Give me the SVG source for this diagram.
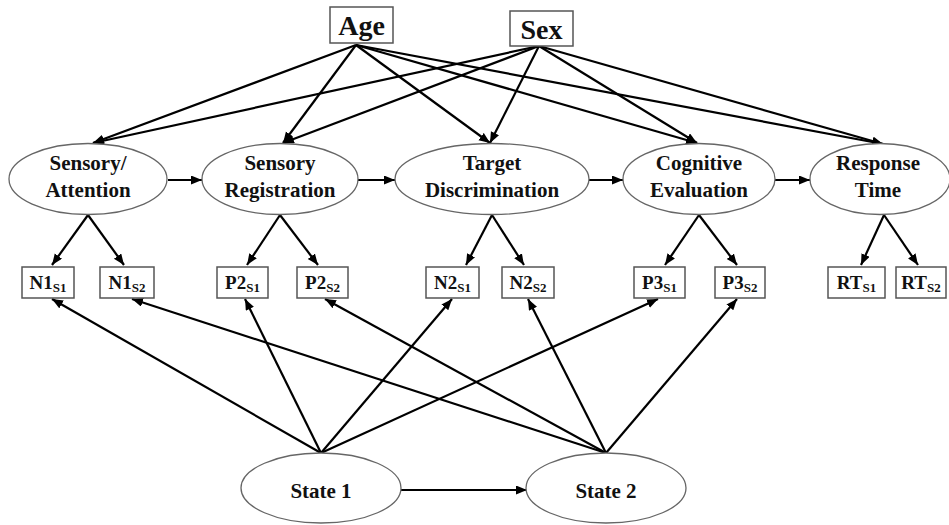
<svg xmlns="http://www.w3.org/2000/svg" width="949" height="525" viewBox="0 0 949 525">
  <defs>
    <marker id="arrow" markerUnits="userSpaceOnUse" markerWidth="12" markerHeight="10" refX="11" refY="4.5" orient="auto">
      <path d="M0,0 L11,4.5 L0,9 z" fill="#000"/>
    </marker>
    <style>
      .lat { fill: #fff; stroke: #666; stroke-width: 1.3; }
      .obs { fill: #fff; stroke: #555; stroke-width: 1.5; }
      .lbl { font-family: "Liberation Serif", "Times New Roman", "DejaVu Serif", serif; font-weight: bold; fill: #111; text-anchor: middle; }
      .big { font-size: 28px; }
      .mid { font-size: 21px; }
      .ind { font-size: 19px; }
      .sub { font-size: 13px; }
      .edge { stroke: #000; stroke-width: 2.2; fill: none; marker-end: url(#arrow); }
    </style>
  </defs>
  <rect width="949" height="525" fill="#fff"/>

  <!-- paths -->
  <g id="connectors">
    <!-- covariates to latent stages -->
    <line class="edge" x1="356" y1="45" x2="93" y2="143"/>
    <line class="edge" x1="356" y1="45" x2="283" y2="143"/>
    <line class="edge" x1="356" y1="45" x2="490" y2="143"/>
    <line class="edge" x1="356" y1="45" x2="697" y2="143"/>
    <line class="edge" x1="356" y1="45" x2="883" y2="144"/>
    <line class="edge" x1="539" y1="46" x2="93" y2="143"/>
    <line class="edge" x1="539" y1="46" x2="283" y2="143"/>
    <line class="edge" x1="539" y1="46" x2="490" y2="143"/>
    <line class="edge" x1="539" y1="46" x2="697" y2="143"/>
    <line class="edge" x1="539" y1="46" x2="883" y2="144"/>
    <!-- stage chain -->
    <line class="edge" x1="168" y1="180" x2="202" y2="180"/>
    <line class="edge" x1="358" y1="180" x2="395" y2="180"/>
    <line class="edge" x1="589" y1="180" x2="623" y2="180"/>
    <line class="edge" x1="775" y1="180" x2="810" y2="180"/>
    <!-- loadings -->
    <line class="edge" x1="88" y1="215" x2="52" y2="265"/>
    <line class="edge" x1="88" y1="215" x2="124" y2="265"/>
    <line class="edge" x1="280" y1="215" x2="247" y2="265"/>
    <line class="edge" x1="280" y1="215" x2="318" y2="265"/>
    <line class="edge" x1="492" y1="215" x2="466" y2="265"/>
    <line class="edge" x1="492" y1="215" x2="524" y2="265"/>
    <line class="edge" x1="699" y1="215" x2="665" y2="265"/>
    <line class="edge" x1="699" y1="215" x2="737" y2="265"/>
    <line class="edge" x1="884" y1="215" x2="861" y2="265"/>
    <line class="edge" x1="884" y1="215" x2="918" y2="265"/>
    <!-- state factors to indicators -->
    <line class="edge" x1="321" y1="453" x2="52" y2="299"/>
    <line class="edge" x1="321" y1="453" x2="245" y2="299"/>
    <line class="edge" x1="321" y1="453" x2="452" y2="299"/>
    <line class="edge" x1="321" y1="453" x2="658" y2="299"/>
    <line class="edge" x1="606" y1="453" x2="132" y2="299"/>
    <line class="edge" x1="606" y1="453" x2="325" y2="299"/>
    <line class="edge" x1="606" y1="453" x2="528" y2="299"/>
    <line class="edge" x1="606" y1="453" x2="737" y2="299"/>
    <!-- state autoregression -->
    <line class="edge" x1="401" y1="490" x2="527" y2="490"/>
  </g>

  <!-- covariates -->
  <g id="age">
    <rect class="obs" x="330" y="7" width="63" height="36"/>
    <text class="lbl big" x="361.5" y="35">Age</text>
  </g>
  <g id="sex">
    <rect class="obs" x="510" y="11" width="63" height="35"/>
    <text class="lbl big" x="541.5" y="39">Sex</text>
  </g>

  <!-- latent processing stages -->
  <g id="sensory-attention">
    <ellipse class="lat" cx="88" cy="179" rx="79" ry="35.5"/>
    <text class="lbl mid" x="88" y="170">Sensory/</text>
    <text class="lbl mid" x="88" y="197">Attention</text>
  </g>
  <g id="sensory-registration">
    <ellipse class="lat" cx="280" cy="179" rx="78" ry="35.5"/>
    <text class="lbl mid" x="280" y="170">Sensory</text>
    <text class="lbl mid" x="280" y="197">Registration</text>
  </g>
  <g id="target-discrimination">
    <ellipse class="lat" cx="492" cy="179" rx="97" ry="35.5"/>
    <text class="lbl mid" x="492" y="170">Target</text>
    <text class="lbl mid" x="492" y="197">Discrimination</text>
  </g>
  <g id="cognitive-evaluation">
    <ellipse class="lat" cx="699" cy="179" rx="76" ry="35.5"/>
    <text class="lbl mid" x="699" y="170">Cognitive</text>
    <text class="lbl mid" x="699" y="197">Evaluation</text>
  </g>
  <g id="response-time">
    <ellipse class="lat" cx="880" cy="179" rx="70" ry="35.5"/>
    <text class="lbl mid" x="878" y="170">Response</text>
    <text class="lbl mid" x="878" y="197">Time</text>
  </g>

  <!-- observed indicators -->
  <g id="n1-s1">
    <rect class="obs" x="22" y="267" width="52" height="31"/>
    <text class="lbl ind" x="48" y="289">N1<tspan class="sub" dy="3">S1</tspan></text>
  </g>
  <g id="n1-s2">
    <rect class="obs" x="100" y="267" width="54" height="31"/>
    <text class="lbl ind" x="127" y="289">N1<tspan class="sub" dy="3">S2</tspan></text>
  </g>
  <g id="p2-s1">
    <rect class="obs" x="217" y="267" width="51" height="31"/>
    <text class="lbl ind" x="242.5" y="289">P2<tspan class="sub" dy="3">S1</tspan></text>
  </g>
  <g id="p2-s2">
    <rect class="obs" x="297" y="267" width="51" height="31"/>
    <text class="lbl ind" x="322.5" y="289">P2<tspan class="sub" dy="3">S2</tspan></text>
  </g>
  <g id="n2-s1">
    <rect class="obs" x="426" y="267" width="53" height="31"/>
    <text class="lbl ind" x="452.5" y="289">N2<tspan class="sub" dy="3">S1</tspan></text>
  </g>
  <g id="n2-s2">
    <rect class="obs" x="502" y="267" width="52" height="31"/>
    <text class="lbl ind" x="528" y="289">N2<tspan class="sub" dy="3">S2</tspan></text>
  </g>
  <g id="p3-s1">
    <rect class="obs" x="634" y="267" width="51" height="31"/>
    <text class="lbl ind" x="659.5" y="289">P3<tspan class="sub" dy="3">S1</tspan></text>
  </g>
  <g id="p3-s2">
    <rect class="obs" x="715" y="267" width="50" height="31"/>
    <text class="lbl ind" x="740" y="289">P3<tspan class="sub" dy="3">S2</tspan></text>
  </g>
  <g id="rt-s1">
    <rect class="obs" x="828" y="267" width="57" height="31"/>
    <text class="lbl ind" x="856.5" y="289">RT<tspan class="sub" dy="3">S1</tspan></text>
  </g>
  <g id="rt-s2">
    <rect class="obs" x="896" y="267" width="50" height="31"/>
    <text class="lbl ind" x="921" y="289">RT<tspan class="sub" dy="3">S2</tspan></text>
  </g>

  <!-- state factors -->
  <g id="state-1">
    <ellipse class="lat" cx="321" cy="488" rx="80" ry="35"/>
    <text class="lbl mid" x="321" y="498">State 1</text>
  </g>
  <g id="state-2">
    <ellipse class="lat" cx="606" cy="488" rx="80" ry="35"/>
    <text class="lbl mid" x="606" y="498">State 2</text>
  </g>
</svg>
